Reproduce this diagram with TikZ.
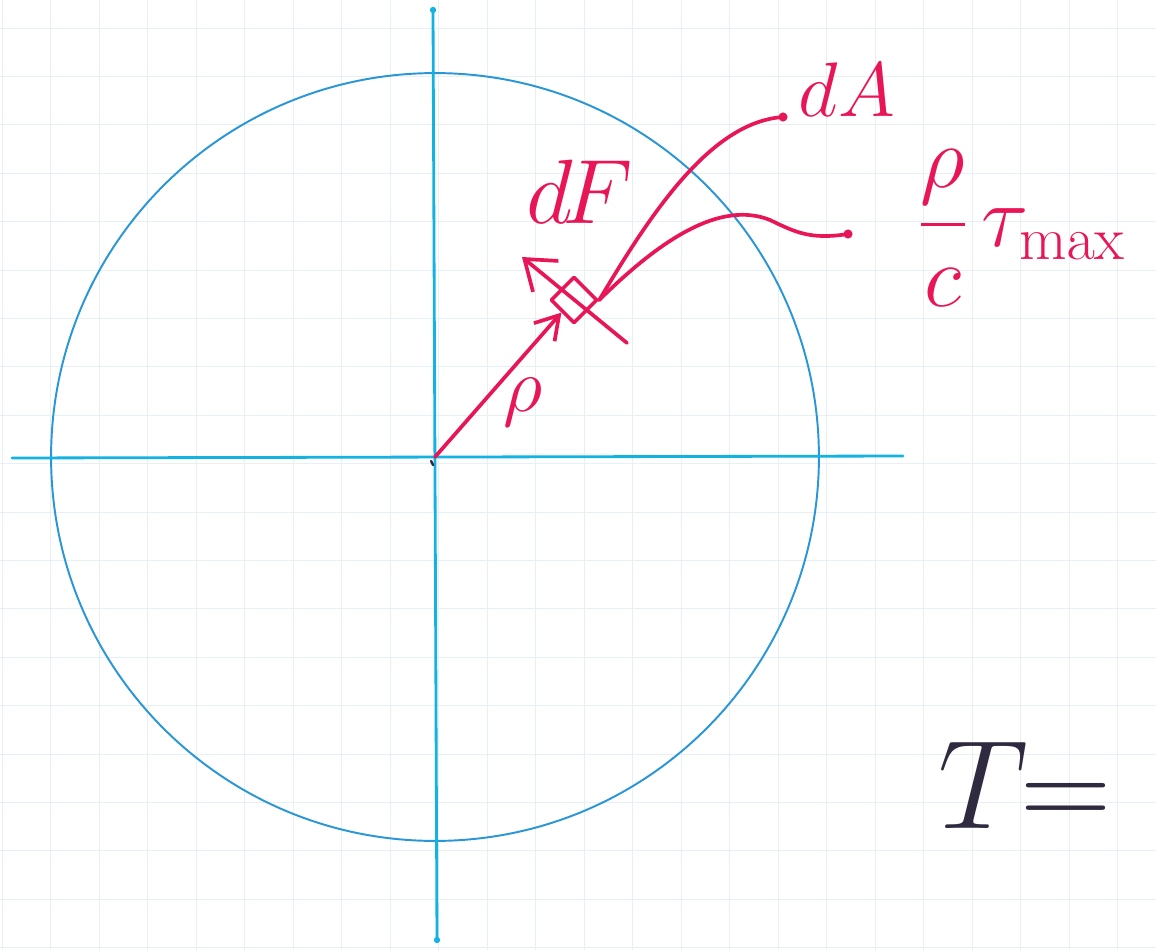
\documentclass[tikz,border=0pt]{standalone}
\usepackage{fix-cm}
\usepackage{amsmath,amssymb}
\usepackage{tikz}
\usetikzlibrary{arrows.meta,positioning}
\definecolor{inkred}{RGB}{232,22,86}
\definecolor{axisblue}{RGB}{18,178,226}
\definecolor{circblue}{RGB}{40,150,215}
\definecolor{gridblue}{RGB}{230,240,245}
\definecolor{penblack}{RGB}{48,42,64}

\begin{document}
\begin{tikzpicture}[x=0.02cm, y=-0.02cm, line cap=round, line join=round,
    ink/.style={inkred, line width=2.1pt},
    axis/.style={axisblue, line width=1.6pt},
    lbl/.style={inkred, inner sep=0pt}]
    \useasboundingbox[fill=white] (0,0) rectangle (1156,950);
    % squared paper
    \foreach \i in {0,...,23} \draw[gridblue, line width=0.5pt] (2+48.5*\i,0) -- (2+48.5*\i,950);
    \foreach \j in {0,...,19} \draw[gridblue, line width=0.5pt] (0,28+48.4*\j) -- (1156,28+48.4*\j);
    % section and axes
    \coordinate (O) at (435,457);
    \draw[circblue, line width=1.1pt] (O) circle[radius=7.68cm];
    \draw[axis] (12,458) -- (903,456);
    \draw[axis] (433,10) -- (437,940);
    \fill[axisblue] (433,10) circle[radius=1.8pt] (437,940) circle[radius=1.8pt];
    \draw[penblack, line width=1.4pt] (431,461) -- (433,465);
    % element dA
    \node[draw=inkred, line width=2.1pt, rotate=45, minimum size=0.64cm, inner sep=0pt] (elem) at (574,300) {};
    \draw[ink, -{Straight Barb[length=0.45cm, width=0.55cm]}] (O) -- (elem.west);
    \node[lbl, font=\fontsize{44}{50}\selectfont] (rho) at (523,402) {$\rho$};
    % force dF
    \coordinate (Ftail) at (627,343);
    \draw[ink, -{Straight Barb[length=0.55cm, width=0.8cm]}] (Ftail) -- (522,257);
    \node[lbl, font=\fontsize{52}{60}\selectfont] (dF) at (580,192) {$d\mkern-2mu F$};
    % leaders
    \coordinate (dAend) at (783,117);
    \coordinate (tauend) at (848,234);
    \draw[ink] (elem.south east) .. controls (650,215) and (710,122) .. (dAend);
    \draw[ink] (elem.south east) .. controls (660,240) and (720,200) .. (770,220)
        .. controls (795,232) and (810,240) .. (tauend);
    \fill[inkred] (dAend) circle[radius=2.6pt] (tauend) circle[radius=2.6pt];
    \node[lbl, font=\fontsize{44}{50}\selectfont] (dA) at (847,90) {$dA$};
    \node[lbl, font=\fontsize{50}{56}\selectfont] (tau) at (1022,228) {$\dfrac{\rho}{c}\,\tau_{\max}$};
    % torque
    \node[penblack, inner sep=0pt, font=\fontsize{72}{80}\selectfont] (T) at (1025,785) {$T\mkern-6mu=$};
\end{tikzpicture}
\end{document}
